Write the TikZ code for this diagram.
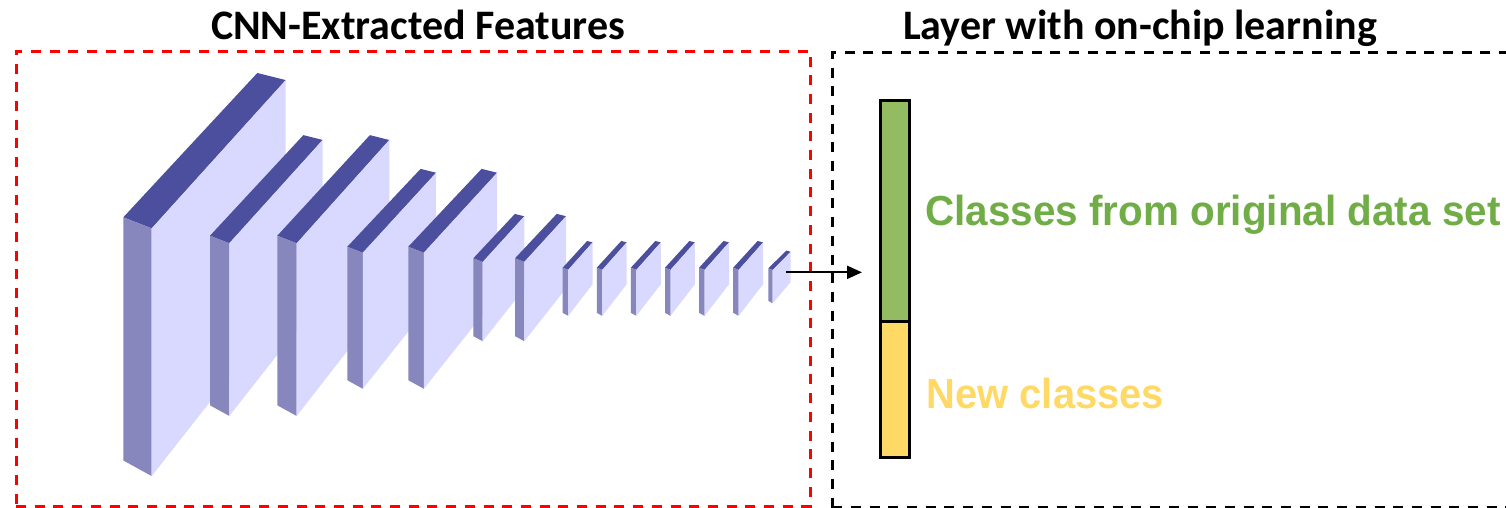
\documentclass[tikz,border=0pt]{standalone}
\usepackage{fontspec}
\setmainfont{Carlito}
\newfontfamily\labelfont{Liberation Sans}
\usetikzlibrary{calc,arrows.meta}

\definecolor{slabtopc}{HTML}{4B4F9E}
\definecolor{slabsidec}{HTML}{8787BD}
\definecolor{slabfrontc}{HTML}{D9D9FF}
\definecolor{oldgreen}{HTML}{93BB62}
\definecolor{oldtext}{HTML}{70AD47}
\definecolor{newyellow}{HTML}{FFD966}
\definecolor{framered}{HTML}{FF0000}

\tikzset{
  slabtop/.style={fill=slabtopc},
  slabside/.style={fill=slabsidec},
  slabfront/.style={fill=slabfrontc},
  frame/.style={draw, line width=3pt, dash pattern=on 10pt off 8.7pt, inner sep=0pt},
  title/.style={font=\fontsize{42}{50}\selectfont\bfseries, anchor=base, inner sep=0pt},
  classbox/.style={draw=black, line width=3pt, minimum width=29pt, inner sep=0pt},
  classlabel/.style={font=\labelfont\fontsize{42}{50}\selectfont\bfseries, anchor=base west, inner sep=0pt},
  feedarrow/.style={line width=2.3pt, -{Triangle[length=15pt,width=13pt]}, shorten >=17pt},
}

% One feature-map slab: name, side top-left x, y, side width, front height,
% depth offset dx, dy
\newcommand\cnnslab[7]{%
  \coordinate (#1-A) at (#2,#3);
  \coordinate (#1-B) at ($(#1-A)+(#4,0.39*#4)$);
  \coordinate (#1-C) at ($(#1-B)+(0,#5)$);
  \coordinate (#1-D) at ($(#1-C)+(-#4,-0.55*#4)$);
  \coordinate (#1-E) at ($(#1-B)+(#6,-#7)$);
  \coordinate (#1-F) at ($(#1-E)+(-#4,-0.25*#4)$);
  \coordinate (#1-G) at ($(#1-E)+(0,0.91*#5)$);
  \fill[slabtop] (#1-A)--(#1-B)--(#1-E)--(#1-F)--cycle;
  \fill[slabside] (#1-A)--(#1-B)--(#1-C)--(#1-D)--cycle;
  \fill[slabfront] (#1-B)--(#1-E)--(#1-G)--(#1-C)--cycle;
}

\begin{document}
\begin{tikzpicture}[x=1pt, y=-1pt]
  \useasboundingbox[fill=white] (0,0) rectangle (1506,507);

  % frames and titles
  \node[frame, draw=framered, minimum width=794.7pt, minimum height=455pt] (cnnframe) at (413.35,278.5) {};
  \node[frame, draw=black, minimum width=700pt, minimum height=455pt, anchor=north west] (layerframe) at (830.7,51) {};
  \node[title] (cnntitle) at (418,39) {CNN-Extracted Features};
  \node[title] (layertitle) at (1140,39) {Layer with on-chip learning};

  % feature-map slabs, back to front
  \cnnslab{s1}{123.3}{217.3}{28.4}{247.7}{134}{148.3}
  \cnnslab{s2}{210}{235.7}{19.3}{172.7}{93.4}{103.3}
  \cnnslab{s3}{277.3}{235.7}{19.4}{172.7}{92.6}{103.3}
  \cnnslab{s4}{347.3}{246.7}{15.5}{136}{73.3}{80}
  \cnnslab{s5}{408.3}{246.7}{15.5}{136}{73.3}{80}
  \cnnslab{s6}{473.3}{258.3}{9.4}{79.3}{41.6}{45.7}
  \cnnslab{s7}{515}{258.3}{9.3}{79.3}{41.7}{45.7}
  \cnnslab{s8}{562.7}{267.7}{5.5}{46}{24.4}{27.5}
  \cnnslab{s9}{596.8}{267.7}{5.5}{46}{24.4}{27.5}
  \cnnslab{s10}{630.9}{267.7}{5.5}{46}{24.4}{27.5}
  \cnnslab{s11}{665}{267.7}{5.5}{46}{24.4}{27.5}
  \cnnslab{s12}{699.1}{267.7}{5.5}{46}{24.4}{27.5}
  \cnnslab{s13}{733.2}{267.7}{5.5}{46}{24.4}{27.5}
  \cnnslab{s14}{768.3}{268.3}{4.4}{33.3}{18}{18.3}

  % output layer
  \node[classbox, fill=newyellow, minimum height=136pt] (new) at (895,389.5) {};
  \node[classbox, fill=oldgreen, minimum height=221pt] (orig) at (895,211) {};

  \node[classlabel, text=oldtext] (origlabel) at (925,225) {\scalebox{0.963}[1]{Classes from original data set}};
  \node[classlabel, text=newyellow] (newlabel) at (926.5,408.3) {\scalebox{0.95}[1]{New classes}};

  % feature vector into the layer
  \coordinate (out) at ([xshift=-4.7pt]$(s14-E)!0.68!(s14-G)$);
  \draw[feedarrow] (out) -- (out -| orig.west);
\end{tikzpicture}
\end{document}
